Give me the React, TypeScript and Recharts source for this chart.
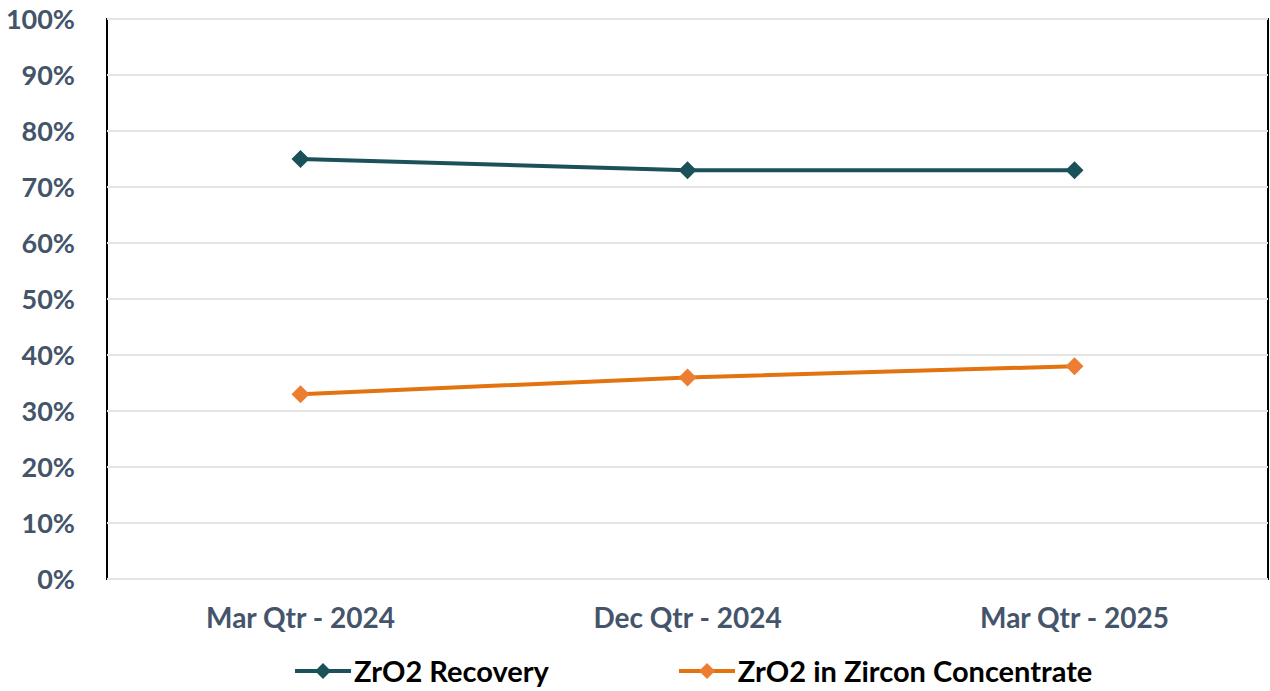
import React from "react";
import { LineChart, Line, XAxis, YAxis, Legend, ReferenceArea, ReferenceLine } from "recharts";

const categories = ["Mar Qtr - 2024", "Dec Qtr - 2024", "Mar Qtr - 2025"];
const recovery = [75, 73, 73];
const concentrate = [33, 36, 38];
const yTicks = [0, 10, 20, 30, 40, 50, 60, 70, 80, 90, 100];

const data = categories.map((c, i) => ({ name: c, recovery: recovery[i], concentrate: concentrate[i] }));

const TEAL = "#1B5158";
const ORANGE_LINE = "#E2730E";
const ORANGE_DOT = "#ED7D31";
const AXIS_TEXT = "#44546A";
const FONT = "Lato, 'Open Sans', sans-serif";
const FRAME_MAX = categories.length - 1;

const Diamond = (fill: string, r: number) => (props: any) => {
  const { cx, cy, index } = props;
  if (cx == null || cy == null) return <g key={index} />;
  return (
    <polygon
      key={index}
      points={`${cx},${cy - r} ${cx + r},${cy} ${cx},${cy + r} ${cx - r},${cy}`}
      fill={fill}
      stroke="none"
    />
  );
};

const legendItems = [
  { label: "ZrO2 Recovery", line: TEAL, dot: TEAL },
  { label: "ZrO2 in Zircon Concentrate", line: ORANGE_LINE, dot: ORANGE_DOT },
];

const LegendContent = () => (
  <div style={{ display: "flex", justifyContent: "flex-start", alignItems: "center", gap: 130, fontFamily: FONT, height: 40, paddingLeft: 295, boxSizing: "border-box", width: "100%" }}>
    {legendItems.map((it) => (
      <div key={it.label} style={{ display: "flex", alignItems: "center", whiteSpace: "nowrap" }}>
        <svg width={56} height={20} style={{ marginRight: 3 }}>
          <line x1={0} y1={10} x2={56} y2={10} stroke={it.line} strokeWidth={4} />
          <polygon points="28,2 36,10 28,18 20,10" fill={it.dot} />
        </svg>
        <span style={{ fontSize: 29, fontWeight: 700, color: "#000", lineHeight: "40px" }}>{it.label}</span>
      </div>
    ))}
  </div>
);

export default function App() {
  return (
    <div style={{ position: "absolute", left: 0, top: 0, width: 1270, height: 691, background: "#fff", overflow: "hidden" }}>
      <style>{`html,body{margin:0;padding:0;overflow:hidden;}`}</style>
      <LineChart width={1270} height={691} data={data} margin={{ top: 19, right: 2, left: 0, bottom: 0 }}>
        <XAxis
          dataKey="name"
          axisLine={false}
          tickLine={false}
          tickSize={0}
          tickMargin={29}
          height={72}
          padding={{ left: 193.5, right: 193.5 }}
          tick={{ fill: AXIS_TEXT, fontSize: 28, fontWeight: 700, fontFamily: FONT }}
        />
        <XAxis xAxisId="frame" type="number" domain={[0, FRAME_MAX]} hide allowDataOverflow />
        <YAxis
          domain={[0, 100]}
          ticks={yTicks}
          interval={0}
          tickFormatter={(v: number) => `${v}%`}
          axisLine={false}
          tickLine={false}
          tickSize={0}
          tickMargin={32}
          width={107}
          tick={{ fill: AXIS_TEXT, fontSize: 27, fontWeight: 700, fontFamily: FONT }}
        />
        {yTicks.map((t) => (
          <ReferenceLine
            key={t}
            xAxisId="frame"
            segment={[{ x: 0, y: t }, { x: FRAME_MAX, y: t }]}
            stroke="#E4E4E4"
            strokeWidth={2}
            ifOverflow="visible"
          />
        ))}
        <ReferenceArea xAxisId="frame" x1={0} x2={FRAME_MAX} y1={0} y2={100} fill="none" stroke="#000" strokeWidth={2} ifOverflow="visible" />
        <Line
          dataKey="recovery"
          name="ZrO2 Recovery"
          stroke={TEAL}
          strokeWidth={4}
          dot={Diamond(TEAL, 9)}
          activeDot={false}
          isAnimationActive={false}
        />
        <Line
          dataKey="concentrate"
          name="ZrO2 in Zircon Concentrate"
          stroke={ORANGE_LINE}
          strokeWidth={4}
          dot={Diamond(ORANGE_DOT, 9)}
          activeDot={false}
          isAnimationActive={false}
        />
        <Legend verticalAlign="bottom" height={40} content={<LegendContent />} />
      </LineChart>
    </div>
  );
}
